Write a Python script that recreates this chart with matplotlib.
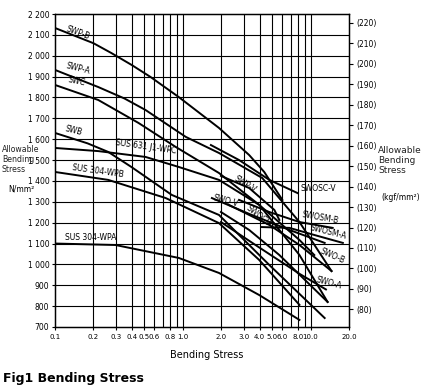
import numpy as np
import matplotlib
matplotlib.use("Agg")
import matplotlib.pyplot as plt

# curves: (x values, allowable stress N/mm2)
SWP_B_x = [0.1, 0.2, 0.276, 0.4, 0.56, 0.93, 1.92, 3.31, 4.34, 6.02]
SWP_B_y = [2133, 2060, 2013, 1955, 1898, 1802, 1654, 1524, 1443, 1309]
SWP_A_x = [0.1, 0.218, 0.35, 0.511, 1.056, 1.92, 4.19, 8.19, 14.6]
SWP_A_y = [1932, 1850, 1795, 1740, 1611, 1534, 1414, 1203, 968]
SWC_x = [0.1, 0.218, 0.45, 0.88, 1.92, 3.97, 8.19, 13.6]
SWC_y = [1860, 1788, 1678, 1563, 1438, 1285, 1045, 820]
SWB_x = [0.1, 0.18, 0.261, 0.396, 0.82, 1.92, 4.76, 12.9]
SWB_y = [1630, 1580, 1539, 1467, 1333, 1237, 997, 743]
SUS631_x = [0.1, 0.218, 0.511, 0.93, 1.92, 3.97, 8.19, 10.7]
SUS631_y = [1558, 1543, 1515, 1467, 1405, 1285, 1117, 1045]
SUS304B_x = [0.1, 0.261, 0.735, 1.92, 3.97, 8.19]
SUS304B_y = [1443, 1405, 1318, 1198, 1021, 806]
SUS304A_x = [0.1, 0.297, 0.93, 1.92, 3.97, 8.19]
SUS304A_y = [1100, 1093, 1031, 959, 853, 734]
SWOSC_V_x = [1.66, 2.76, 4.76, 7.90]
SWOSC_V_y = [1572, 1500, 1405, 1342]
SWP_V_x = [1.99, 3.31, 5.21, 5.70]
SWP_V_y = [1424, 1366, 1261, 1213]
SWO_V_x = [1.69, 3.31, 6.84, 12.9]
SWO_V_y = [1318, 1242, 1165, 1103]
SWOSM_B_x = [2.76, 4.76, 8.19, 14.9]
SWOSM_B_y = [1309, 1251, 1203, 1175]
SWOSM_A_x = [4.12, 6.84, 10.7, 17.9]
SWOSM_A_y = [1179, 1175, 1141, 1103]
SWO_B_x = [2.30, 4.76, 8.19, 14.6]
SWO_B_y = [1285, 1189, 1093, 968]
SWO_A_x = [1.99, 3.97, 8.19, 13.2]
SWO_A_y = [1203, 1081, 955, 880]
SWOCV_V_x = [1.99, 3.31, 5.70, 13.6]
SWOCV_V_y = [1251, 1165, 1045, 820]

curves = [
    (SWP_B_x, SWP_B_y), (SWP_A_x, SWP_A_y), (SWC_x, SWC_y), (SWB_x, SWB_y),
    (SUS631_x, SUS631_y), (SUS304B_x, SUS304B_y), (SUS304A_x, SUS304A_y),
    (SWOSC_V_x, SWOSC_V_y), (SWP_V_x, SWP_V_y), (SWO_V_x, SWO_V_y),
    (SWOSM_B_x, SWOSM_B_y), (SWOSM_A_x, SWOSM_A_y), (SWO_B_x, SWO_B_y),
    (SWO_A_x, SWO_A_y), (SWOCV_V_x, SWOCV_V_y),
]

x_grid = [0.2, 0.3, 0.4, 0.5, 0.6, 0.7, 0.8, 0.9, 1, 2, 3, 4, 5, 6, 7, 8, 9, 10]
x_ticks = [0.1, 0.2, 0.3, 0.4, 0.5, 0.6, 0.8, 1.0, 2.0, 3.0, 4.0, 5.0, 6.0, 8.0, 10.0, 20.0]
x_labels = ["0.1", "0.2", "0.3", "0.4", "0.5", "0.6", "0.8", "1.0", "2.0", "3.0",
            "4.0", "5.0", "6.0", "8.0", "10.0", "20.0"]
y_ticks = list(range(700, 2201, 100))
kgf_ticks = list(range(80, 221, 10))

W, H = 427, 387
fig = plt.figure(figsize=(W / 100, H / 100), dpi=100)
ax = fig.add_axes([55 / W, 1 - 327 / H, 294 / W, 313 / H])
ax.set_xscale("log")
ax.set_xlim(0.1, 20)
ax.set_ylim(700, 2200)

for gx in x_grid:
    ax.axvline(gx, color="black", lw=0.8, zorder=1)
for gy in y_ticks[1:-1]:
    ax.axhline(gy, color="black", lw=0.8, zorder=1)

for xs, ys in curves:
    ax.plot(xs, ys, color="black", lw=1.4, zorder=2, solid_joinstyle="round")

ax.set_xticks(x_ticks)
ax.set_xticklabels(x_labels)
ax.xaxis.set_minor_locator(matplotlib.ticker.NullLocator())
ax.set_yticks(y_ticks)
ax.set_yticklabels([f"{v // 1000} {v % 1000:03d}" if v >= 1000 else str(v) for v in y_ticks])
ax.tick_params(axis="y", length=2, width=0.8, labelsize=5.5, pad=2)
ax.tick_params(axis="x", length=2, width=0.8, labelsize=5, pad=3)
for s in ax.spines.values():
    s.set_linewidth(1.0)

# right axis in kgf/mm2
ax2 = ax.twinx()
ax2.set_ylim(ax.get_ylim())
ax2.set_yticks([k * 9.80665 for k in kgf_ticks])
ax2.set_yticklabels([f"({k})" for k in kgf_ticks])
ax2.tick_params(axis="y", length=3, width=0.8, labelsize=5.5, pad=2)

def ftext(px, py, s, rot=0, size=5.5, **kw):
    fig.text(px / W, 1 - py / H, s, rotation=rot, fontsize=size,
             rotation_mode="anchor", ha="left", va="baseline", **kw)

labels = [
    (66, 31, "SWP-B", -20), (66, 68, "SWP-A", -14), (67, 82, "SWC", -12),
    (65, 131, "SWB", -14), (115, 145, "SUS 631 J1-WPC", -8),
    (72, 170, "SUS 304-WPB", -8), (65, 240, "SUS 304-WPA", 0),
    (233, 180, "SWP-V", -32), (213, 200, "SWO-V", -15),
    (246, 209, "SWOCV-V", -38), (301, 191, "SWOSC-V", 0),
    (302, 217, "SWOSM-B", -10), (310, 230, "SWOSM-A", -14),
    (320, 253, "SWO-B", -24), (315, 282, "SWO-A", -15),
]
for px, py, s, r in labels:
    ftext(px, py, s, r)

ftext(2, 152, "Allowable", size=5.6, color="#222222")
ftext(2, 162, "Bending", size=5.6, color="#222222")
ftext(2, 172, "Stress", size=5.6, color="#222222")
ftext(8, 191, "N/mm²", size=5.5)
ftext(378, 153, "Allowable", size=6.5, color="#222222")
ftext(378, 163, "Bending", size=6.5, color="#222222")
ftext(378, 173, "Stress", size=6.5, color="#222222")
ftext(381, 200, "(kgf/mm²)", size=5.5)
ftext(170, 358, "Bending Stress", size=7)
ftext(3, 382, "Fig1 Bending Stress", size=9, weight="bold")

fig.savefig("out.png", dpi=100)
